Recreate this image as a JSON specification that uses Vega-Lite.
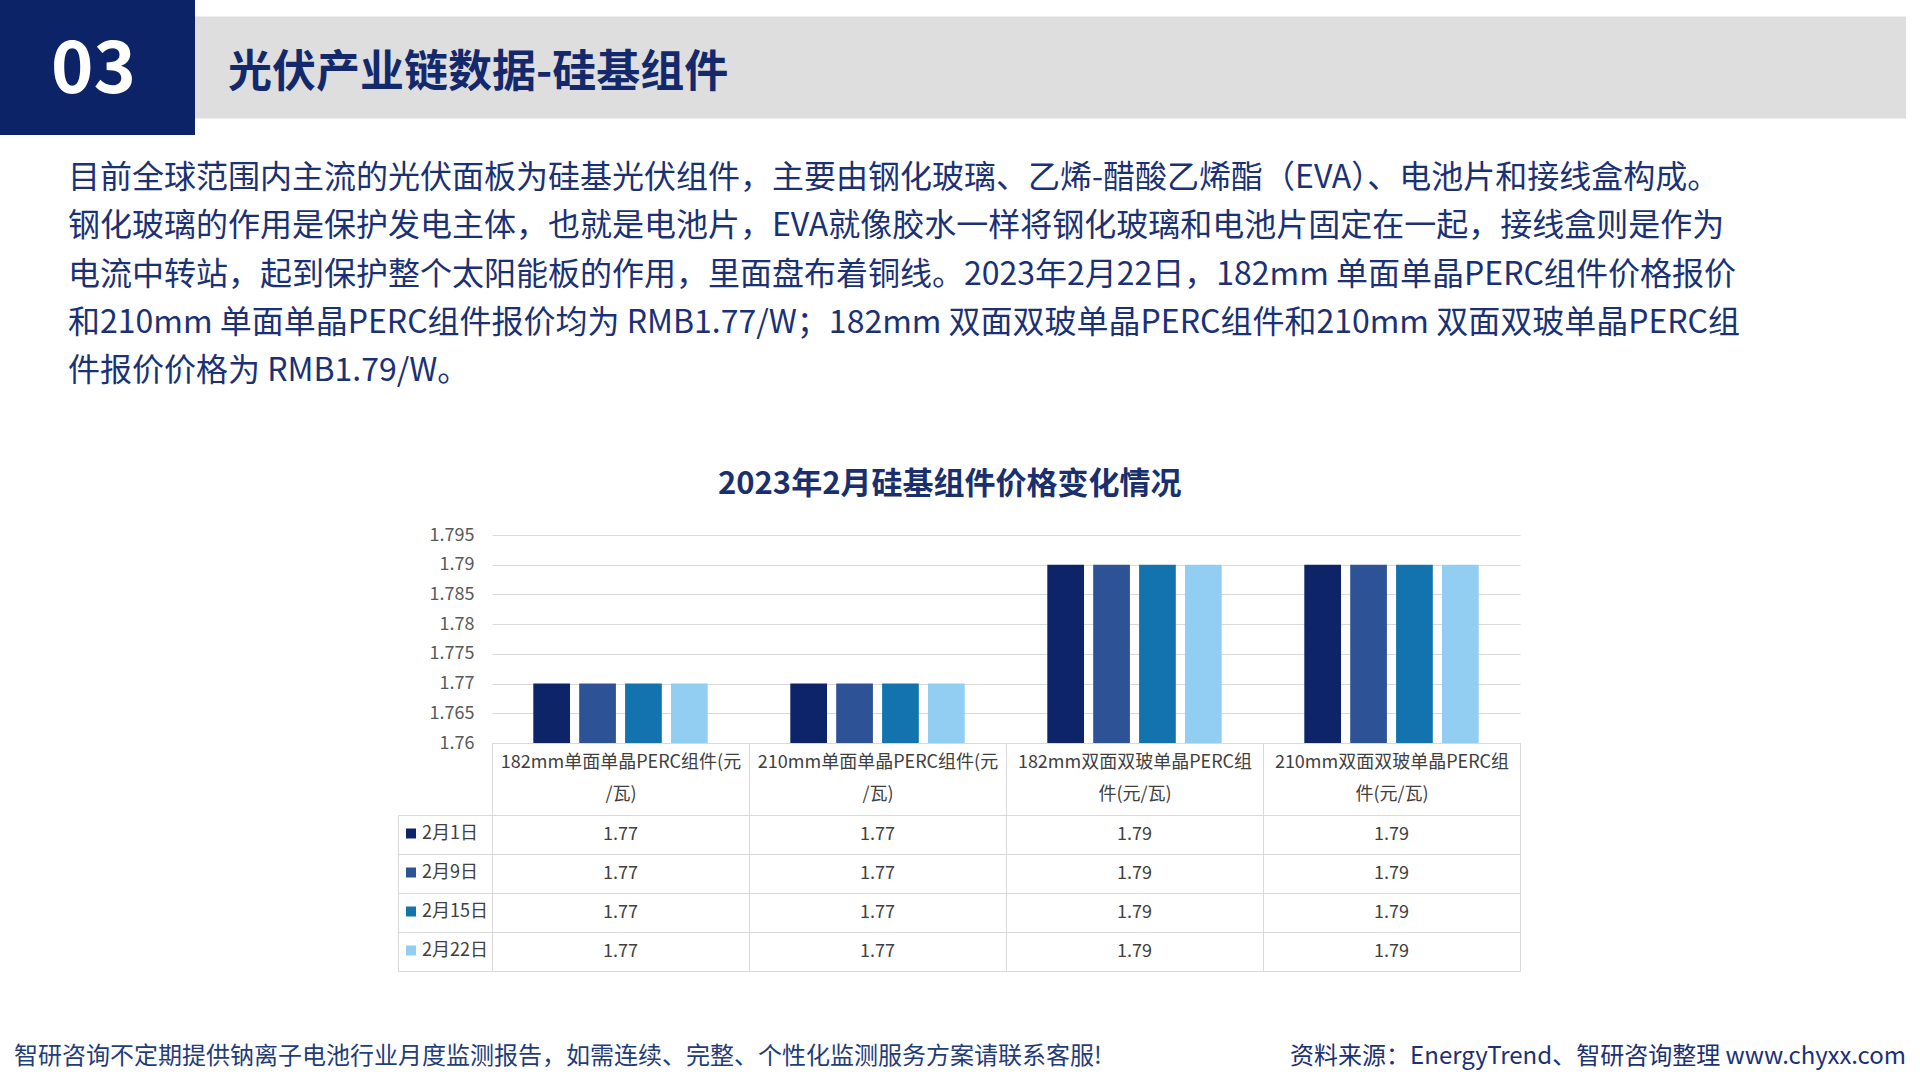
{
  "$schema": "https://vega.github.io/schema/vega-lite/v6.json",
  "background": "white",
  "padding": 0,
  "columns": 2,
  "spacing": 0,
  "bounds": "flush",
  "center": true,
  "config": {"font": "Noto Sans CJK SC", "view": {"stroke": null}},
  "datasets": {
    "prices": [
      {"category": "182mm单面单晶PERC组件(元/瓦)", "series": "2月1日", "value": 1.77},
      {"category": "182mm单面单晶PERC组件(元/瓦)", "series": "2月9日", "value": 1.77},
      {"category": "182mm单面单晶PERC组件(元/瓦)", "series": "2月15日", "value": 1.77},
      {"category": "182mm单面单晶PERC组件(元/瓦)", "series": "2月22日", "value": 1.77},
      {"category": "210mm单面单晶PERC组件(元/瓦)", "series": "2月1日", "value": 1.77},
      {"category": "210mm单面单晶PERC组件(元/瓦)", "series": "2月9日", "value": 1.77},
      {"category": "210mm单面单晶PERC组件(元/瓦)", "series": "2月15日", "value": 1.77},
      {"category": "210mm单面单晶PERC组件(元/瓦)", "series": "2月22日", "value": 1.77},
      {"category": "182mm双面双玻单晶PERC组件(元/瓦)", "series": "2月1日", "value": 1.79},
      {"category": "182mm双面双玻单晶PERC组件(元/瓦)", "series": "2月9日", "value": 1.79},
      {"category": "182mm双面双玻单晶PERC组件(元/瓦)", "series": "2月15日", "value": 1.79},
      {"category": "182mm双面双玻单晶PERC组件(元/瓦)", "series": "2月22日", "value": 1.79},
      {"category": "210mm双面双玻单晶PERC组件(元/瓦)", "series": "2月1日", "value": 1.79},
      {"category": "210mm双面双玻单晶PERC组件(元/瓦)", "series": "2月9日", "value": 1.79},
      {"category": "210mm双面双玻单晶PERC组件(元/瓦)", "series": "2月15日", "value": 1.79},
      {"category": "210mm双面双玻单晶PERC组件(元/瓦)", "series": "2月22日", "value": 1.79}
    ]
  },
  "concat": [
    {
      "width": 195,
      "height": 135,
      "view": {"fill": "#0D2367", "stroke": null},
      "data": {"values": [{"label": "03"}]},
      "mark": {"type": "text", "fontSize": 72, "fontWeight": "bold", "color": "#FFFFFF", "align": "center", "baseline": "middle", "dx": -4, "dy": 3},
      "encoding": {"text": {"field": "label", "type": "nominal"}}
    },
    {
      "width": 1711,
      "height": 102,
      "view": {"fill": "#DEDEDE", "stroke": null},
      "title": {"text": "光伏产业链数据-硅基组件", "anchor": "start", "frame": "group", "fontSize": 44, "fontWeight": "bold", "color": "#13296B", "dx": 33, "offset": 0, "baseline": "middle", "dy": 101, "limit": 1700},
      "data": {"values": [{}]},
      "mark": {"type": "text"},
      "encoding": {}
    },
    {
      "width": 195,
      "height": 400,
      "title": {
        "text": [
          "目前全球范围内主流的光伏面板为硅基光伏组件，主要由钢化玻璃、乙烯-醋酸乙烯酯（EVA）、电池片和接线盒构成。",
          "钢化玻璃的作用是保护发电主体，也就是电池片，EVA就像胶水一样将钢化玻璃和电池片固定在一起，接线盒则是作为",
          "电流中转站，起到保护整个太阳能板的作用，里面盘布着铜线。2023年2月22日，182mm 单面单晶PERC组件价格报价",
          "和210mm 单面单晶PERC组件报价均为 RMB1.77/W；182mm 双面双玻单晶PERC组件和210mm 双面双玻单晶PERC组",
          "件报价价格为 RMB1.79/W。"
        ],
        "anchor": "start", "frame": "group", "fontSize": 32, "fontWeight": "normal", "color": "#1B3175",
        "lineHeight": 48.2, "dx": 68, "offset": 0, "baseline": "middle", "dy": 268, "limit": 1900
      },
      "data": {"values": [{}]},
      "mark": {"type": "text"},
      "encoding": {}
    },
    {
      "width": 1711,
      "height": 400,
      "data": {"values": [{}]},
      "mark": {"type": "text"},
      "encoding": {}
    },
    {
      "width": 195,
      "height": 208,
      "title": {"text": "2023年2月硅基组件价格变化情况", "anchor": "start", "frame": "group", "fontSize": 31, "fontWeight": "bold", "color": "#1A2F6E", "dx": 718, "offset": 0, "baseline": "middle", "dy": -10},
      "data": {"name": "prices"},
      "layer": [
        {
          "mark": {"type": "bar"},
          "encoding": {
            "x": {
              "field": "category", "type": "nominal", "sort": null,
              "scale": {"range": [492, 1520], "paddingInner": 0, "paddingOuter": 0},
              "axis": {
                "orient": "bottom", "title": null, "domainColor": "#D9D9D9", "tickColor": "#D9D9D9",
                "tickSize": 228, "tickBand": "extent", "labelAngle": 0, "labelFontSize": 18, "labelColor": "#404040",
                "labelLineHeight": 32, "labelPadding": -218, "labelBaseline": "top", "labelLimit": 400,
                "labelOverlap": false, "labelBound": false, "grid": false,
                "labelExpr": "length(datum.label) == 20 ? [substring(datum.label, 0, 17), substring(datum.label, 17)] : [substring(datum.label, 0, 16), substring(datum.label, 16)]"
              }
            },
            "xOffset": {"field": "series", "type": "nominal", "sort": ["2月1日", "2月9日", "2月15日", "2月22日"], "scale": {"paddingInner": 0.2, "paddingOuter": 0.9}},
            "y": {
              "field": "value", "type": "quantitative",
              "scale": {"domain": [1.76, 1.795], "zero": false, "nice": false, "clamp": true},
              "axis": {
                "orient": "left", "offset": -492, "values": [1.76, 1.765, 1.77, 1.775, 1.78, 1.785, 1.79, 1.795],
                "format": ".3~f", "labelFontSize": 18, "labelColor": "#595959", "labelPadding": 18,
                "grid": true, "gridColor": "#D9D9D9", "domain": false, "ticks": false, "tickSize": 0, "title": null
              }
            },
            "color": {
              "field": "series", "type": "nominal",
              "scale": {"domain": ["2月1日", "2月9日", "2月15日", "2月22日"], "range": ["#0E2469", "#2D5296", "#1273AF", "#92CEF2"]},
              "legend": {
                "orient": "none", "legendX": 402, "legendY": 814, "title": null, "symbolType": "square",
                "symbolSize": 100, "labelFontSize": 18, "labelColor": "#404040", "clipHeight": 39,
                "rowPadding": 0, "padding": 0, "symbolStrokeWidth": 0, "labelOffset": 2
              }
            }
          }
        },
        {
          "mark": {"type": "text", "fontSize": 18, "color": "#404040"},
          "encoding": {
            "x": {"field": "category", "type": "nominal", "sort": null},
            "y": {
              "field": "series", "type": "nominal", "sort": ["2月1日", "2月9日", "2月15日", "2月22日"],
              "scale": {"range": [280, 436], "paddingInner": 0, "paddingOuter": 0},
              "axis": {
                "orient": "left", "offset": -398, "tickBand": "extent", "tickSize": -94, "tickColor": "#D9D9D9",
                "domainColor": "#D9D9D9", "grid": true, "gridColor": "#D9D9D9", "labels": false, "title": null
              }
            },
            "text": {"field": "value", "type": "quantitative", "format": ".2f"}
          }
        }
      ],
      "resolve": {"scale": {"y": "independent"}, "axis": {"y": "independent"}}
    },
    {
      "width": 1711,
      "height": 208,
      "data": {"values": [{}]},
      "mark": {"type": "text"},
      "encoding": {}
    },
    {
      "width": 195,
      "height": 337,
      "title": {"text": "智研咨询不定期提供钠离子电池行业月度监测报告，如需连续、完整、个性化监测服务方案请联系客服!", "anchor": "start", "frame": "group", "fontSize": 24, "fontWeight": "normal", "color": "#1F3D7A", "dx": 14, "offset": 0, "baseline": "middle", "dy": 338, "limit": 1200},
      "data": {"values": [{}]},
      "mark": {"type": "text"},
      "encoding": {}
    },
    {
      "width": 1711,
      "height": 337,
      "title": {"text": "资料来源：EnergyTrend、智研咨询整理     www.chyxx.com", "anchor": "end", "frame": "group", "fontSize": 24, "fontWeight": "normal", "color": "#1B3175", "dx": 0, "offset": 0, "baseline": "middle", "dy": 338, "limit": 900},
      "data": {"values": [{}]},
      "mark": {"type": "text"},
      "encoding": {}
    }
  ]
}
